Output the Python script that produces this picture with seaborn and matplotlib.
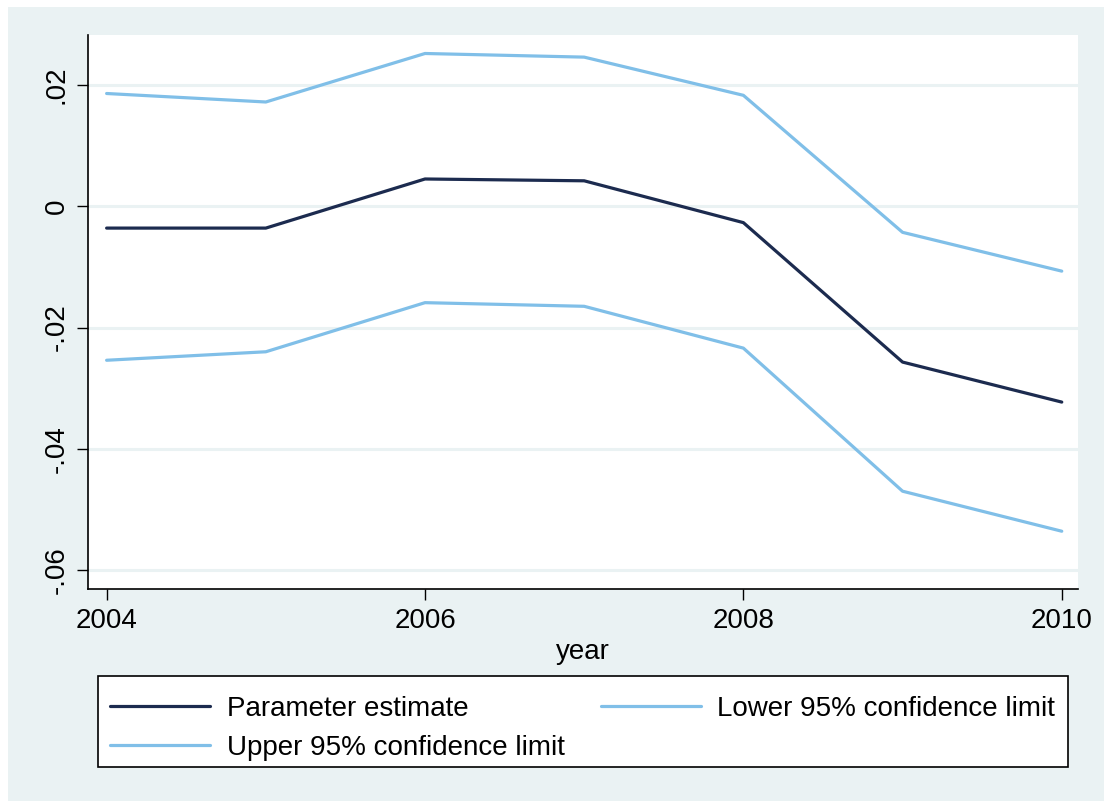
import matplotlib
matplotlib.use("Agg")
import matplotlib.pyplot as plt
from matplotlib.patches import Rectangle
import seaborn as sns
import pandas as pd

years = [2004, 2005, 2006, 2007, 2008, 2009, 2010]
estimate = [-0.0036, -0.0036, 0.0045, 0.0042, -0.0027, -0.0257, -0.0323]
lower = [-0.0254, -0.0240, -0.0159, -0.0165, -0.0234, -0.0470, -0.0536]
upper = [0.0186, 0.0172, 0.0252, 0.0246, 0.0183, -0.0043, -0.0107]
series_names = ["Parameter estimate", "Lower 95% confidence limit", "Upper 95% confidence limit"]
y_ticks = [0.02, 0.0, -0.02, -0.04, -0.06]
y_tick_labels = [".02", "0", "-.02", "-.04", "-.06"]
x_ticks = [2004, 2006, 2008, 2010]

df = pd.concat([
    pd.DataFrame({"year": years, "value": estimate, "series": series_names[0]}),
    pd.DataFrame({"year": years, "value": lower, "series": series_names[1]}),
    pd.DataFrame({"year": years, "value": upper, "series": series_names[2]}),
])

sns.set_theme(style="white")
plt.rcParams["font.family"] = ["Liberation Sans", "DejaVu Sans"]
plt.rcParams["text.color"] = "black"
plt.rcParams["axes.labelcolor"] = "black"

W, H = 1104, 801
fig = plt.figure(figsize=(W / 100, H / 100), dpi=100, facecolor="white")
bg = "#eaf2f3"
fig.patches.append(Rectangle((8 / W, 0), 1 - 8 / W, 1 - 7 / H, transform=fig.transFigure,
                             facecolor=bg, edgecolor="none", zorder=-10))
# legend frame box
fig.patches.append(Rectangle((98 / W, (H - 767) / H), 970 / W, 91 / H, transform=fig.transFigure,
                             facecolor="white", edgecolor="black", linewidth=1.2, zorder=4))

ax = fig.add_axes([88 / W, (H - 589) / H, 990 / W, 554 / H])
ax.set_facecolor("white")

navy = "#1c2b4f"
light = "#80bfe8"
palette = {series_names[0]: navy, series_names[1]: light, series_names[2]: light}
sns.lineplot(data=df, x="year", y="value", hue="series", palette=palette,
             linewidth=2.3, ax=ax, legend=True)

ax.set_xlim(2003.883, 2010.102)
ax.set_ylim(-0.06313, 0.02825)
ax.set_yticks(y_ticks)
ax.set_yticklabels(y_tick_labels, rotation=90, va="center", fontsize=20)
ax.set_xticks(x_ticks)
ax.set_xticklabels([str(x) for x in x_ticks], fontsize=20)
ax.set_xlabel("year", fontsize=20, labelpad=3)
ax.set_ylabel("")

ax.yaxis.grid(True, color=bg, linewidth=2.2)
ax.xaxis.grid(False)
ax.set_axisbelow(True)
for s in ["top", "right"]:
    ax.spines[s].set_visible(False)
for s in ["left", "bottom"]:
    ax.spines[s].set_color("black")
    ax.spines[s].set_linewidth(1.2)
ax.tick_params(axis="both", which="major", direction="out", length=8, width=1,
               color="black", labelcolor="black", bottom=True, left=True)
ax.tick_params(axis="x", pad=6)
ax.tick_params(axis="y", pad=5)

handles, labels = ax.get_legend_handles_labels()
ax.get_legend().remove()
hmap = dict(zip(labels, handles))
order = [series_names[0], series_names[2], series_names[1]]
leg = fig.legend([hmap[k] for k in order], order, ncol=2,
                 loc="upper left",
                 bbox_to_anchor=(96 / W, (H - 682) / H),
                 fontsize=20, frameon=False,
                 handlelength=3.6, handletextpad=0.6, borderaxespad=0,
                 labelspacing=0.47, borderpad=0.5, columnspacing=1.3)
leg.set_zorder(5)
for t in leg.get_texts():
    t.set_color("black")

fig.savefig("out.png", dpi=100, facecolor="white")
